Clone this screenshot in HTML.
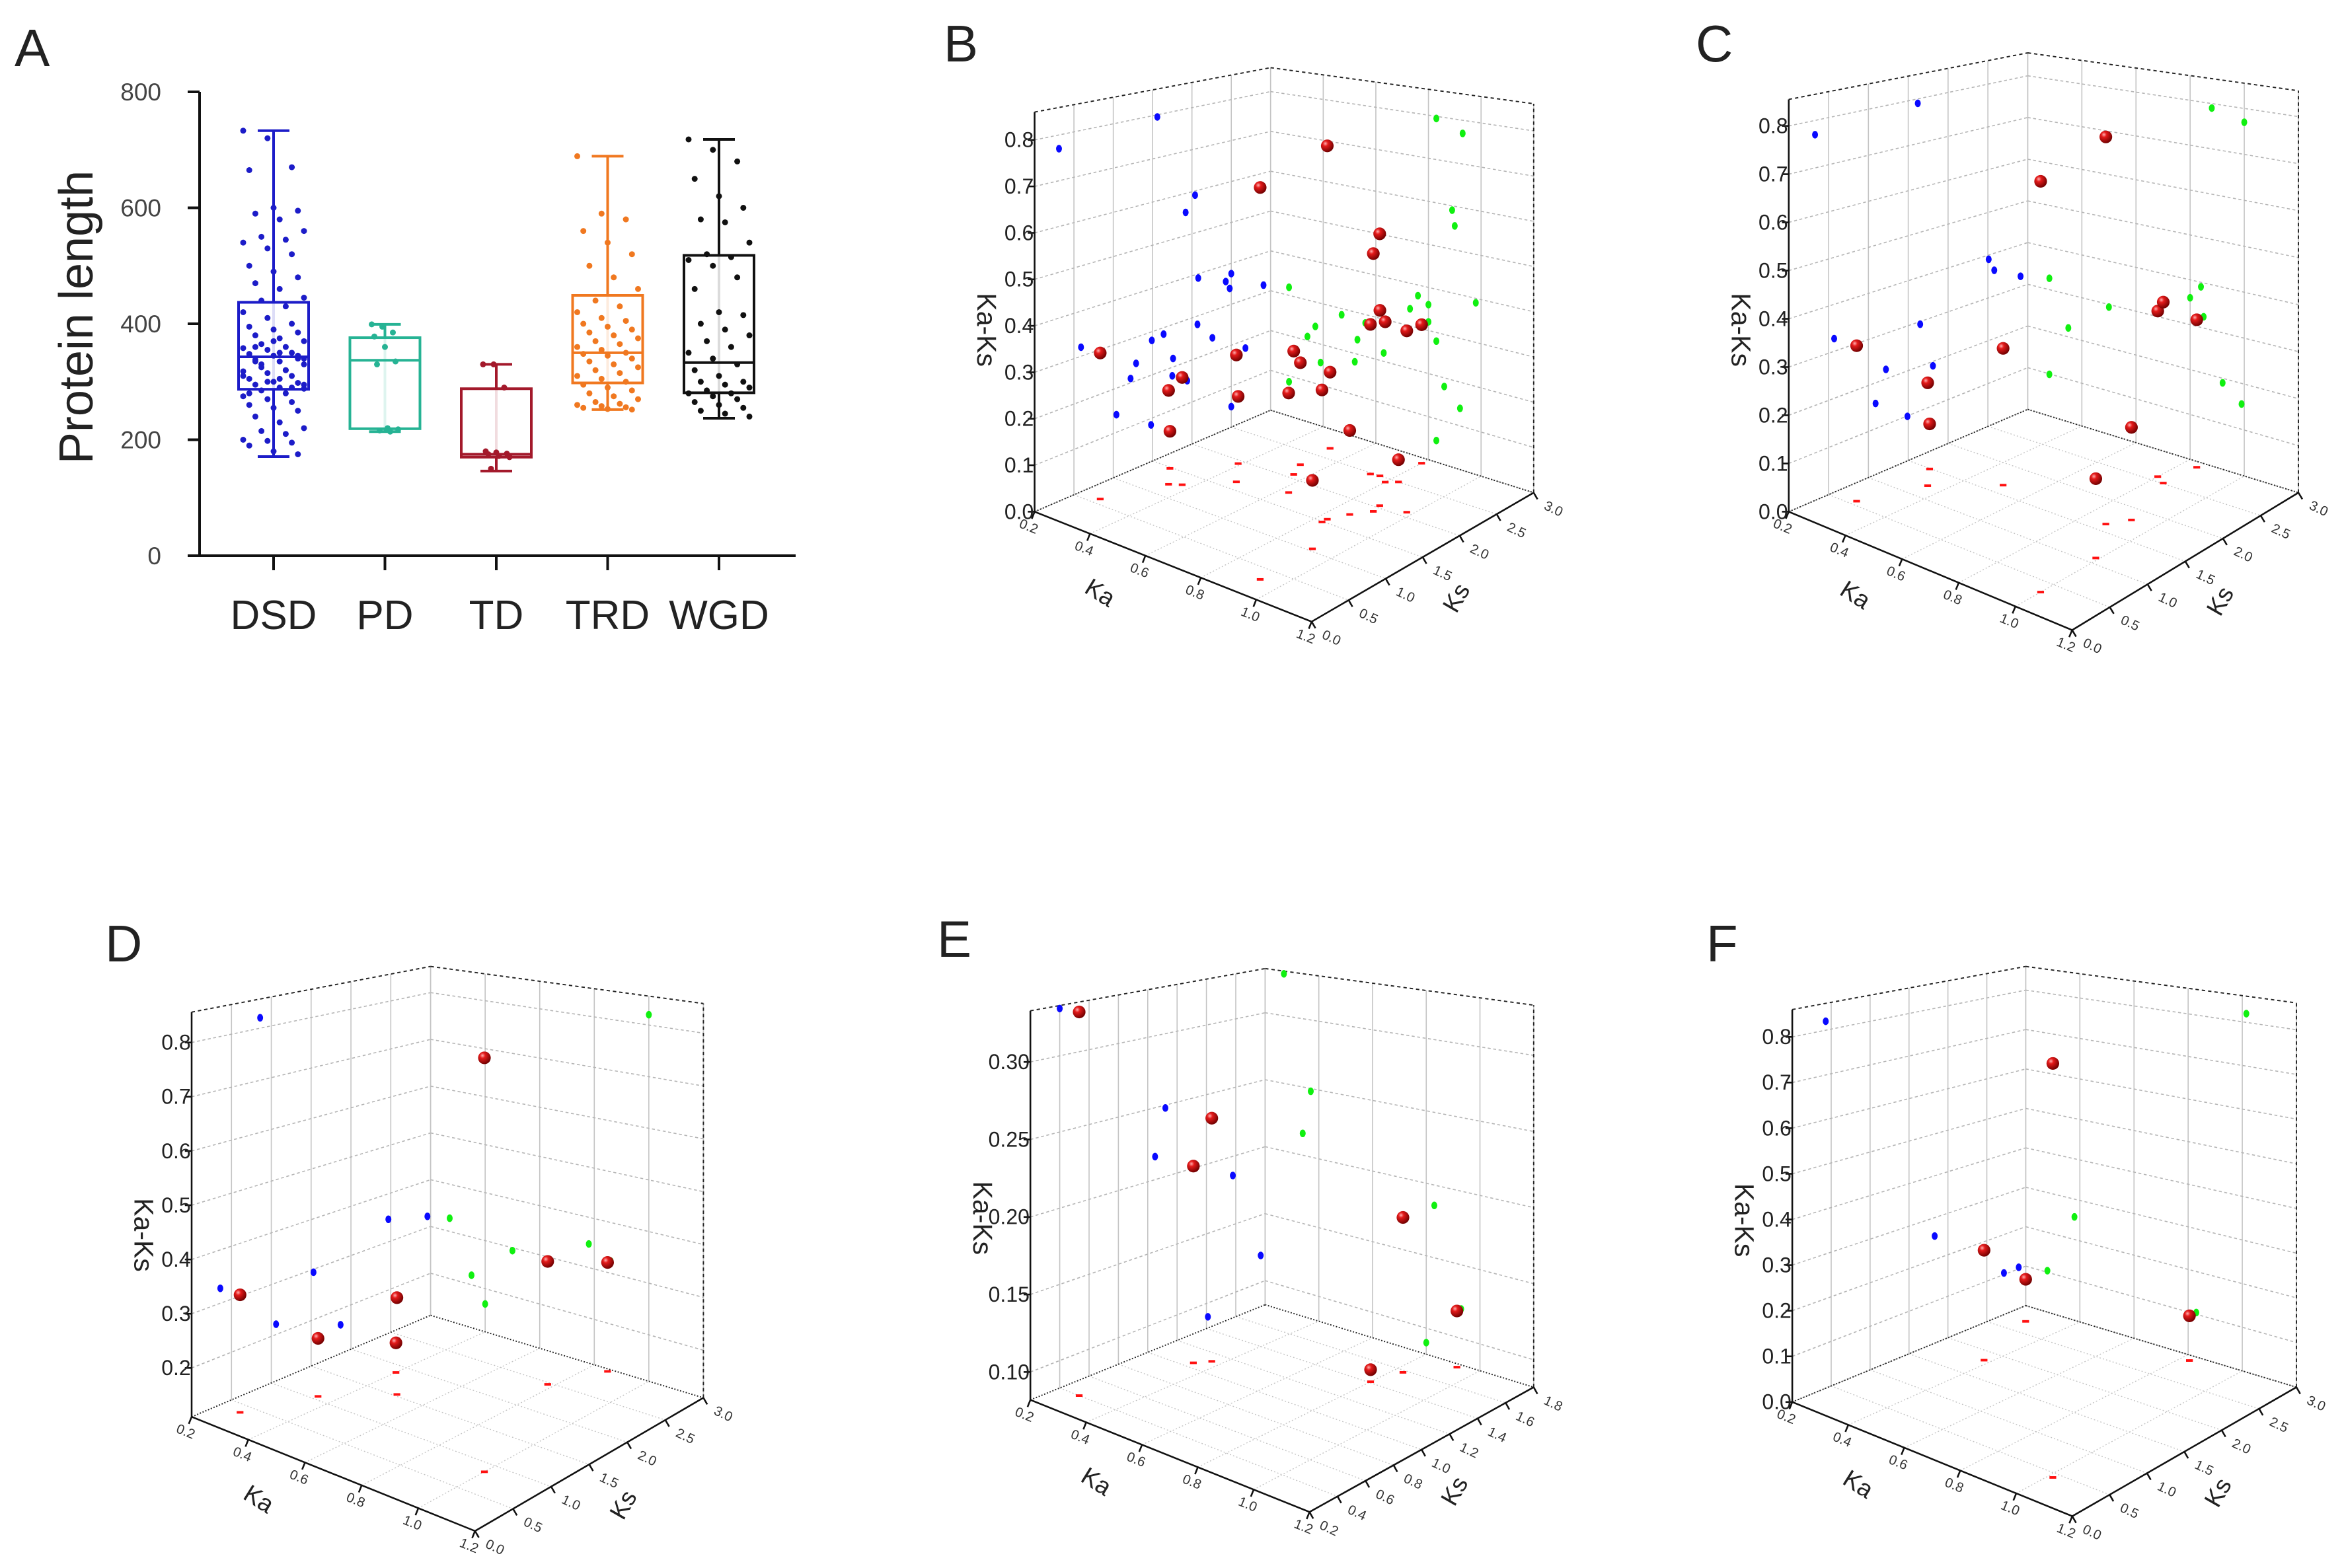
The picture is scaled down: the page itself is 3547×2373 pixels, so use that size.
<!DOCTYPE html>
<html><head><meta charset="utf-8"><title>Protein length and Ka-Ks 3D plots</title>
<style>
html,body{margin:0;padding:0;background:#fff;}
svg{display:block;font-family:"Liberation Sans",Arial,sans-serif;}
</style></head>
<body>
<svg id="fig" width="3547" height="2373" viewBox="0 0 3547 2373" xmlns="http://www.w3.org/2000/svg">
<defs>
<radialGradient id="sph" cx="35%" cy="32%" r="70%">
<stop offset="0" stop-color="#ffb0b0"/>
<stop offset="0.3" stop-color="#e41a1a"/>
<stop offset="1" stop-color="#700000"/>
</radialGradient>
</defs>
<rect x="0" y="0" width="3547" height="2373" fill="#fff"/>
</svg>
<script>
// ---------------- Panel A data ----------------
const catsA = ['DSD','PD','TD','TRD','WGD'];
const q1A  = [287,219,170,298,281];
const medA = [343,337,175,350,333];
const q3A  = [437,376,288,449,518];
const loA  = [171,214,146,252,237];
const hiA  = [733,399,330,689,718];
const yTicksA = [0,200,400,600,800];
const dsdVals = [733,720,670,665,600,595,590,580,560,550,545,540,530,520,500,490,480,470,460,445,440,430,420,410,400,395,390,385,380,375,370,365,360,358,355,350,348,345,340,338,335,330,325,320,318,315,310,305,300,298,295,290,288,285,280,275,270,265,260,255,250,240,230,220,215,210,200,198,195,190,180,175,360,350,340,330,320,310,300,290,280,370,345,335,305,295];
const pdVals  = [399,395,385,378,360,335,330,220,218,216,214];
const tdVals  = [330,330,290,180,178,176,175,172,170,150];
const trdVals = [689,590,580,560,540,520,500,480,460,440,430,420,410,405,400,395,390,385,380,375,370,365,360,355,350,348,345,340,335,330,325,320,315,310,305,300,295,290,285,280,275,270,265,262,260,258,256,255,253,252];
const wgdVals = [718,700,680,650,620,600,580,575,540,520,515,510,500,480,460,420,415,400,390,380,370,360,350,340,330,320,310,300,300,295,290,285,280,280,275,270,265,260,255,250,245,240];

// ---------------- Panels B-F data ----------------
const kaB   = [0.83,0.93,0.89,0.90,0.76,0.73,0.80,0.98,0.80,0.27,0.47,0.56,0.53,0.52,0.37,0.34,0.39,0.63,0.83,0.27,0.86,0.83,0.92];
const ksB   = [1.56,0.31,2.04,1.92,2.50,2.48,2.43,2.08,2.91,0.59,1.64,2.07,2.26,2.68,1.29,1.22,1.94,1.76,1.49,1.48,1.75,2.50,1.04];
const kaksB = [0.795,0.77,0.59,0.555,0.375,0.34,0.36,0.39,0.32,0.32,0.285,0.28,0.235,0.18,0.24,0.21,0.155,0.22,0.28,0.085,0.18,0.05,0.14];

const kaC   = [0.88,1.00,0.84,0.80,0.85,0.28,0.50,0.35,0.28,0.92,0.99];
const ksC   = [1.62,0.33,2.51,2.58,2.91,0.57,1.65,1.22,1.49,1.81,1.09];
const kaksC = [0.79,0.77,0.39,0.36,0.325,0.327,0.294,0.221,0.099,0.19,0.155];

const kaD   = [1.00,0.78,0.86,0.27,0.50,0.35,0.40];
const ksD   = [0.86,2.47,2.96,0.36,1.53,1.06,1.87];
const kaksD = [0.82,0.347,0.324,0.328,0.294,0.22,0.168];

const kaE   = [0.27,0.37,0.34,0.83,0.93,0.80];
const ksE   = [0.40,1.12,1.05,1.58,1.77,1.41];
const kaksE = [0.331,0.248,0.216,0.186,0.120,0.090];

const kaF   = [1.015,0.38,0.28,0.83];
const ksF   = [0.43,1.83,2.72,2.91];
const kaksF = [0.82,0.256,0.104,0.104];

const kaTicks = [0.2,0.4,0.6,0.8,1.0,1.2];
const ksTicks = [0,0.5,1.0,1.5,2.0,2.5,3.0];
const ksTicksE = [0.2,0.4,0.6,0.8,1.0,1.2,1.4,1.6,1.8];
const zTicks = [0,0.1,0.2,0.3,0.4,0.5,0.6,0.7,0.8];
const zTicksE = [0.10,0.15,0.20,0.25,0.30];

const NS = 'http://www.w3.org/2000/svg';
const svg = document.getElementById('fig');

function mk(tag, attrs, parent, name) {
  const el = document.createElementNS(NS, tag);
  for (const k in attrs) el.setAttribute(k, attrs[k]);
  
  
  parent.appendChild(el);
  return el;
}
function txt(str, attrs, parent, name) {
  const t = mk('text', attrs, parent, name);
  t.textContent = str;
  return t;
}

// ---------------- Panel A ----------------
(function(){
  const g = mk('g', {}, svg, 'panel-a');
  txt('A', {x:22, y:100, 'font-size':80, fill:'#222'}, g, 'panel-label-a');
  const yA = v => 841 - v * 0.8775;
  const xA = i => 414 + i * 168.5;
  const colors = ['#1c1cc8','#26b394','#a3192b','#f07820','#111111'];
  const vals = [dsdVals, pdVals, tdVals, trdVals, wgdVals];
  mk('line', {x1:302, y1:yA(800), x2:302, y2:843, stroke:'#111', 'stroke-width':4}, g, 'y-axis-line');
  mk('line', {x1:288, y1:841, x2:1204, y2:841, stroke:'#111', 'stroke-width':4}, g, 'x-axis-line');
  yTicksA.forEach(t => {
    mk('line', {x1:284, y1:yA(t), x2:302, y2:yA(t), stroke:'#111', 'stroke-width':4}, g, 'y-tick');
    txt(String(t), {x:244, y:yA(t)+13, 'font-size':37, 'text-anchor':'end', fill:'#444'}, g, 'y-tick-label');
  });
  txt('Protein length', {x:0, y:0, 'font-size':72, 'text-anchor':'middle', fill:'#222',
    transform:'translate(140,480) rotate(-90)'}, g, 'y-axis-title');
  catsA.forEach((c,i) => {
    const x = xA(i), col = colors[i];
    mk('line', {x1:x, y1:841, x2:x, y2:863, stroke:'#111', 'stroke-width':4}, g, 'x-tick');
    txt(c, {x:x, y:952, 'font-size':62, 'text-anchor':'middle', fill:'#222'}, g, 'x-tick-label-' + c.toLowerCase());
    const bg = mk('g', {}, g, 'box-' + c.toLowerCase());
    mk('line', {x1:x, y1:yA(hiA[i]), x2:x, y2:yA(loA[i]), stroke:col, 'stroke-width':4}, bg, 'whisker');
    mk('line', {x1:x-24, y1:yA(hiA[i]), x2:x+24, y2:yA(hiA[i]), stroke:col, 'stroke-width':4}, bg, 'whisker-cap-top');
    mk('line', {x1:x-24, y1:yA(loA[i]), x2:x+24, y2:yA(loA[i]), stroke:col, 'stroke-width':4}, bg, 'whisker-cap-bottom');
    mk('rect', {x:x-53, y:yA(q3A[i]), width:106, height:yA(q1A[i])-yA(q3A[i]), fill:'#fff', 'fill-opacity':0.85, stroke:col, 'stroke-width':4}, bg, 'box-iqr');
    mk('line', {x1:x-53, y1:yA(medA[i]), x2:x+53, y2:yA(medA[i]), stroke:col, 'stroke-width':4}, bg, 'median-line');
    const hw = (i === 0 || i === 3 || i === 4) ? 46 : 20;
    vals[i].forEach((v,j) => {
      const off = (((j * 37) % 11) - 5) / 5 * hw;
      mk('circle', {cx:x+off, cy:yA(v), r:4.5, fill:col}, bg, 'data-dot');
    });
  });
})();

// ---------------- 3D panels ----------------
const panels = [
  {id:'b', letter:'B', ox:1380, oy:0,    sc:0.64, L:[290,1210], F:[945,1470], R:[1470,1165], K:[848,970], Hb:810, kk:0.5625,
   ka:kaB, ks:ksB, kaks:kaksB, kaR:[0.2,1.2], ksR:[0,3], zR:[0,0.86], kaT:kaTicks, ksT:ksTicks, zT:zTicks, zDec:1, lx:1428, ly:93},
  {id:'c', letter:'C', ox:2550, oy:0,    sc:0.64, L:[245,1210], F:[915,1490], R:[1450,1165], K:[810,968], Hb:843, kk:0.545,
   ka:kaC, ks:ksC, kaks:kaksC, kaR:[0.2,1.2], ksR:[0,3], zR:[0,0.855], kaT:kaTicks, ksT:ksTicks, zT:zTicks, zDec:1, lx:2566, ly:93},
  {id:'d', letter:'D', ox:130,  oy:1373, sc:0.64, L:[250,1205], F:[920,1475], R:[1460,1160], K:[815,965], Hb:825, kk:0.55,
   ka:kaD, ks:ksD, kaks:kaksD, kaR:[0.2,1.2], ksR:[0,3], zR:[0.11,0.856], kaT:kaTicks, ksT:ksTicks, zT:zTicks, zDec:1, lx:159, ly:1455},
  {id:'e', letter:'E', ox:1380, oy:1373, sc:0.64, L:[280,1165], F:[940,1430], R:[1470,1135], K:[835,940], Hb:795, kk:0.556,
   ka:kaE, ks:ksE, kaks:kaksE, kaR:[0.2,1.2], ksR:[0.2,1.8], zR:[0.082,0.333], kaT:kaTicks, ksT:ksTicksE, zT:zTicksE, zDec:2, lx:1418, ly:1448},
  {id:'f', letter:'F', ox:2547, oy:1373, sc:0.64, L:[258,1170], F:[920,1440], R:[1450,1135], K:[810,942], Hb:802, kk:0.553,
   ka:kaF, ks:ksF, kaks:kaksF, kaR:[0.2,1.2], ksR:[0,3], zR:[0,0.86], kaT:kaTicks, ksT:ksTicks, zT:zTicks, zDec:1, lx:2582, ly:1455}
];

function drawPanel(p) {
  const root = mk('g', {}, svg, 'panel-' + p.id);
  txt(p.letter, {x:p.lx, y:p.ly, 'font-size':78, fill:'#222'}, root, 'panel-label-' + p.id);
  const g = mk('g', {transform:'translate(' + p.ox + ',' + p.oy + ') scale(' + p.sc + ')'}, root, 'plot-3d-' + p.id);
  const uOf = v => (v - p.kaR[0]) / (p.kaR[1] - p.kaR[0]);
  const vOf = v => (v - p.ksR[0]) / (p.ksR[1] - p.ksR[0]);
  const wOf = v => (v - p.zR[0]) / (p.zR[1] - p.zR[0]);
  const P = (u,v) => {
    const a=(1-u)*(1-v), b=u*(1-v), c=u*v, d=(1-u)*v;
    return [a*p.L[0]+b*p.F[0]+c*p.R[0]+d*p.K[0], a*p.L[1]+b*p.F[1]+c*p.R[1]+d*p.K[1]];
  };
  const H = y => p.Hb + p.kk * (y - p.K[1]);
  const P3 = (u,v,w) => { const q = P(u,v); return [q[0], q[1] - w * H(q[1])]; };
  const line = (a,b,attrs,name) => mk('line', Object.assign({x1:a[0], y1:a[1], x2:b[0], y2:b[1]}, attrs), g, name);
  const grid = {stroke:'#c4c4c4', 'stroke-width':2.5, fill:'none'};
  const dgrid = {stroke:'#b5b5b5', 'stroke-width':2.5, 'stroke-dasharray':'7 6'};
  const fgrid = {stroke:'#c4c4c4', 'stroke-width':2.2, 'stroke-dasharray':'3 5'};
  const zIn = p.zT.filter(t => t >= p.zR[0] - 1e-6 && t <= p.zR[1]);

  p.kaT.forEach(t => { const u = uOf(t); if (u>0.001 && u<0.999) line(P(u,0), P(u,1), fgrid, 'floor-grid-ka'); });
  p.ksT.forEach(t => { const v = vOf(t); if (v>0.001 && v<0.999) line(P(0,v), P(1,v), fgrid, 'floor-grid-ks'); });
  p.ksT.forEach(t => { const v = vOf(t); line(P3(0,v,0), P3(0,v,1), grid, 'left-wall-vertical-grid'); });
  zIn.forEach(t => { const w = wOf(t); line(P3(0,0,w), P3(0,1,w), dgrid, 'left-wall-horizontal-grid'); });
  p.kaT.forEach(t => { const u = uOf(t); line(P3(u,1,0), P3(u,1,1), grid, 'right-wall-vertical-grid'); });
  zIn.forEach(t => { const w = wOf(t); line(P3(0,1,w), P3(1,1,w), dgrid, 'right-wall-horizontal-grid'); });
  const blkDash = {stroke:'#222', 'stroke-width':3, 'stroke-dasharray':'8 7'};
  const blkDot = {stroke:'#222', 'stroke-width':3, 'stroke-dasharray':'3 4'};
  line(P3(0,0,1), P3(0,1,1), blkDash, 'top-edge-left');
  line(P3(0,1,1), P3(1,1,1), blkDash, 'top-edge-right');
  line(P3(1,1,0), P3(1,1,1), blkDash, 'right-vertical-edge');
  line(P(0,0), P(0,1), blkDot, 'back-floor-edge-left');
  line(P(0,1), P(1,1), blkDot, 'back-floor-edge-right');
  const ax = {stroke:'#111', 'stroke-width':4};
  line(P3(0,0,0), P3(0,0,1), ax, 'z-axis-line');
  line(P(0,0), P(1,0), ax, 'ka-axis-line');
  line(P(1,0), P(1,1), ax, 'ks-axis-line');
  zIn.forEach(t => {
    const q = P3(0,0,wOf(t));
    line([q[0]-16,q[1]], q, ax, 'z-tick');
    txt(t.toFixed(p.zDec), {x:q[0]-2, y:q[1]+17, 'font-size':50, 'text-anchor':'end', fill:'#222'}, g, 'z-tick-label');
  });
  const dKa = [p.F[0]-p.L[0], p.F[1]-p.L[1]], nKa = Math.hypot(dKa[0],dKa[1]);
  const oKa = [-dKa[1]/nKa, dKa[0]/nKa];
  const angKa = Math.atan2(dKa[1], dKa[0]) * 180 / Math.PI;
  p.kaT.forEach(t => {
    const q = P(uOf(t),0);
    line(q, [q[0]+oKa[0]*18, q[1]+oKa[1]*18], ax, 'ka-tick');
    const lp = [q[0]+oKa[0]*48, q[1]+oKa[1]*48];
    txt(t.toFixed(1), {x:lp[0], y:lp[1], 'font-size':32, 'text-anchor':'middle', fill:'#333',
      transform:'rotate(' + angKa + ' ' + lp[0] + ' ' + lp[1] + ')'}, g, 'ka-tick-label');
  });
  const dKs = [p.R[0]-p.F[0], p.R[1]-p.F[1]], nKs = Math.hypot(dKs[0],dKs[1]);
  const oKs = [-dKs[1]/nKs, dKs[0]/nKs];
  p.ksT.forEach(t => {
    const q = P(1,vOf(t));
    line(q, [q[0]+oKs[0]*18, q[1]+oKs[1]*18], ax, 'ks-tick');
    const lp = [q[0]+oKs[0]*55+15, q[1]+oKs[1]*55];
    txt(t.toFixed(1), {x:lp[0], y:lp[1], 'font-size':32, 'text-anchor':'middle', fill:'#333',
      transform:'rotate(25 ' + lp[0] + ' ' + lp[1] + ')'}, g, 'ks-tick-label');
  });
  const mKa = P(0.3,0), tKa = [mKa[0]+oKa[0]*140, mKa[1]+oKa[1]*140];
  txt('Ka', {x:tKa[0], y:tKa[1], 'font-size':58, 'text-anchor':'middle', fill:'#222',
    transform:'rotate(' + (angKa+10) + ' ' + tKa[0] + ' ' + tKa[1] + ')'}, g, 'ka-axis-title');
  const mKs = P(1,0.55), tKs = [mKs[0]+oKs[0]*140, mKs[1]+oKs[1]*140];
  txt('Ks', {x:tKs[0], y:tKs[1], 'font-size':58, 'text-anchor':'middle', fill:'#222',
    transform:'rotate(-60 ' + tKs[0] + ' ' + tKs[1] + ')'}, g, 'ks-axis-title');
  const zl = [p.L[0]-135, p.L[1]-430];
  txt('Ka-Ks', {x:zl[0], y:zl[1], 'font-size':64, 'text-anchor':'middle', fill:'#222',
    transform:'rotate(90 ' + zl[0] + ' ' + zl[1] + ')'}, g, 'z-axis-title');

  p.ka.forEach((k,i) => {
    const q = P(uOf(k), vOf(p.ks[i]));
    mk('rect', {x:q[0]-8, y:q[1]-3, width:16, height:6, fill:'#ff1010'}, g, 'floor-projection');
  });
  p.ka.forEach((k,i) => {
    const q = P3(0, vOf(p.ks[i]), wOf(p.kaks[i]));
    mk('ellipse', {cx:q[0], cy:q[1], rx:7, ry:9, fill:'#0a0aff'}, g, 'ks-wall-projection');
  });
  p.ka.forEach((k,i) => {
    const q = P3(uOf(k), 1, wOf(p.kaks[i]));
    mk('ellipse', {cx:q[0], cy:q[1], rx:7, ry:9, fill:'#10f010'}, g, 'ka-wall-projection');
  });
  const idx = p.ka.map((k,i) => i).sort((a,b) => (uOf(p.ka[a])+(1-vOf(p.ks[a]))) - (uOf(p.ka[b])+(1-vOf(p.ks[b]))));
  idx.forEach(i => {
    const q = P3(uOf(p.ka[i]), vOf(p.ks[i]), wOf(p.kaks[i]));
    mk('circle', {cx:q[0], cy:q[1], r:15, fill:'url(#sph)'}, g, 'data-sphere');
  });
}
panels.forEach(drawPanel);
</script>
</body></html>
